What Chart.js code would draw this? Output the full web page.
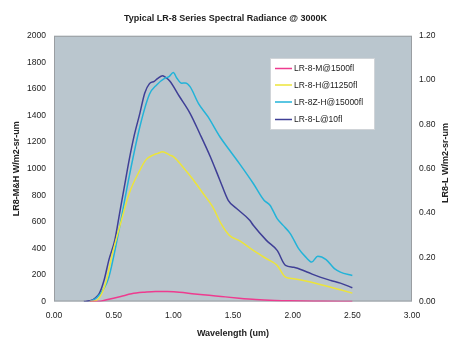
<!DOCTYPE html>
<html>
<head>
<meta charset="utf-8">
<script src="https://cdn.jsdelivr.net/npm/chart.js@4.4.1/dist/chart.umd.min.js"></script>
<style>
  html, body { margin: 0; padding: 0; background: #ffffff; }
  #wrap { width: 451px; height: 339px; }
</style>
</head>
<body>
<div id="wrap"><canvas id="c" width="451" height="339"></canvas></div>
<script>
// ---- Data ----
const chartTitle = "Typical LR-8 Series Spectral Radiance @ 3000K";
const xTitle = "Wavelength (um)";
const yLeftTitle = "LR8-M&H W/m2-sr-um";
const yRightTitle = "LR8-L W/m2-sr-um";

const seriesNames = ["LR-8-M@1500fl", "LR-8-H@11250fl", "LR-8Z-H@15000fl", "LR-8-L@10fl"];

// LR-8-M@1500fl (left axis)
const mWave = [0.30, 0.37, 0.45, 0.56, 0.65, 0.76, 0.85, 0.95, 1.05, 1.18, 1.30, 1.40, 1.55, 1.69, 1.85, 1.97, 2.25, 2.50];
const mVals = [0, 0, 15, 38, 58, 70, 76, 75, 70, 57, 47, 38, 25, 15, 8, 5, 2, 0];

// LR-8-H@11250fl (left axis)
const hWave = [0.30, 0.35, 0.40, 0.44, 0.49, 0.55, 0.63, 0.72, 0.77, 0.83, 0.87, 0.91, 0.97, 1.00, 1.08, 1.17, 1.25, 1.33, 1.40, 1.47, 1.56, 1.67, 1.78, 1.87, 1.94, 2.01, 2.12, 2.23, 2.32, 2.40, 2.50];
const hVals = [0, 5, 60, 162, 362, 562, 813, 989, 1066, 1102, 1115, 1127, 1102, 1090, 1013, 913, 813, 712, 586, 498, 455, 385, 322, 272, 183, 171, 153, 128, 108, 88, 63];

// LR-8Z-H@15000fl (left axis)
const zWave = [0.30, 0.36, 0.42, 0.46, 0.55, 0.63, 0.72, 0.80, 0.86, 0.93, 0.96, 1.00, 1.03, 1.07, 1.10, 1.14, 1.21, 1.29, 1.39, 1.47, 1.56, 1.67, 1.76, 1.81, 1.87, 1.92, 1.98, 2.05, 2.11, 2.16, 2.21, 2.28, 2.35, 2.40, 2.50];
const zVals = [0, 30, 100, 185, 562, 940, 1317, 1560, 1630, 1681, 1690, 1723, 1680, 1643, 1645, 1617, 1492, 1391, 1240, 1140, 1030, 888, 762, 725, 624, 573, 511, 398, 334, 297, 340, 315, 247, 221, 196];

// LR-8-L@10fl (right axis)
const lWave = [0.25, 0.30, 0.38, 0.42, 0.46, 0.51, 0.55, 0.59, 0.63, 0.67, 0.72, 0.76, 0.80, 0.84, 0.87, 0.91, 0.93, 0.97, 1.05, 1.14, 1.22, 1.31, 1.39, 1.46, 1.53, 1.64, 1.67, 1.78, 1.87, 1.94, 2.01, 2.12, 2.23, 2.32, 2.40, 2.50];
const lVals = [0, 0.003, 0.037, 0.097, 0.188, 0.278, 0.399, 0.520, 0.640, 0.745, 0.851, 0.941, 0.984, 0.994, 1.008, 1.020, 1.014, 0.996, 0.927, 0.850, 0.760, 0.654, 0.548, 0.457, 0.420, 0.367, 0.344, 0.276, 0.231, 0.163, 0.155, 0.133, 0.110, 0.095, 0.083, 0.062];

const xTicks = [0, 0.5, 1, 1.5, 2, 2.5, 3];
const yLeftTicks = [0, 200, 400, 600, 800, 1000, 1200, 1400, 1600, 1800, 2000];
const yRightTicks = [0, 0.2, 0.4, 0.6, 0.8, 1.0, 1.2];

const colors = ["#ee3b8f", "#ece43a", "#23b3d8", "#3f3f96"];

// ---- Build ----
function pts(xs, ys) { return xs.map((x, i) => ({ x: x, y: ys[i] })); }

const FONT = "'Liberation Sans', Arial, sans-serif";
const TEXT = "#222222";

const plotBg = {
  id: 'plotBg',
  beforeDatasetsDraw(chart) {
    const { ctx, chartArea: a } = chart;
    ctx.save();
    ctx.fillStyle = "#bac6ce";
    ctx.fillRect(a.left, a.top, a.right - a.left, a.bottom - a.top);
    ctx.strokeStyle = "#9a9ea2";
    ctx.lineWidth = 1;
    ctx.strokeRect(a.left + 0.5, a.top + 0.5, a.right - a.left - 1, a.bottom - a.top - 1);
    ctx.restore();
  }
};

const extras = {
  id: 'extras',
  afterDraw(chart) {
    const ctx = chart.ctx;
    ctx.save();
    // right axis title (reads bottom-to-top like the left one)
    ctx.translate(446, 163);
    ctx.rotate(-Math.PI / 2);
    ctx.font = "bold 9px " + FONT;
    ctx.fillStyle = TEXT;
    ctx.textAlign = "center";
    ctx.textBaseline = "middle";
    ctx.fillText(yRightTitle, 0, 0);
    ctx.restore();

    // legend box inside the plot
    ctx.save();
    const bx = 270, by = 58, bw = 105, bh = 72;
    ctx.fillStyle = "#ffffff";
    ctx.fillRect(bx, by, bw, bh);
    ctx.strokeStyle = "#d0d4d8";
    ctx.lineWidth = 1;
    ctx.strokeRect(bx + 0.5, by + 0.5, bw - 1, bh - 1);
    ctx.font = "8.5px " + FONT;
    ctx.textBaseline = "middle";
    ctx.textAlign = "left";
    const rows = [68.5, 85, 102, 119.5];
    seriesNames.forEach((n, i) => {
      ctx.strokeStyle = colors[i];
      ctx.lineWidth = 1.5;
      ctx.beginPath();
      ctx.moveTo(275, rows[i]);
      ctx.lineTo(292, rows[i]);
      ctx.stroke();
      ctx.fillStyle = TEXT;
      ctx.fillText(n, 294, rows[i] + 0.5);
    });
    ctx.restore();
  }
};

const datasets = [
  { label: seriesNames[0], data: pts(mWave, mVals), yAxisID: 'y', borderColor: colors[0] },
  { label: seriesNames[1], data: pts(hWave, hVals), yAxisID: 'y', borderColor: colors[1] },
  { label: seriesNames[2], data: pts(zWave, zVals), yAxisID: 'y', borderColor: colors[2] },
  { label: seriesNames[3], data: pts(lWave, lVals), yAxisID: 'y1', borderColor: colors[3] }
].map(d => Object.assign(d, { borderWidth: 1.5, pointRadius: 0, fill: false, cubicInterpolationMode: 'monotone' }));

new Chart(document.getElementById('c'), {
  type: 'line',
  data: { datasets: datasets },
  options: {
    responsive: false,
    animation: false,
    devicePixelRatio: 1,
    layout: { padding: 0 },
    plugins: {
      legend: { display: false },
      tooltip: { enabled: false },
      title: {
        display: true,
        text: chartTitle,
        color: TEXT,
        font: { family: FONT, size: 9, weight: 'bold' },
        padding: { top: 13, bottom: 12 }
      }
    },
    scales: {
      x: {
        type: 'linear',
        min: 0, max: 3,
        afterBuildTicks: s => { s.ticks = xTicks.map(v => ({ value: v })); },
        afterFit: s => { s.height = 37.5; },
        grid: { display: false, drawTicks: false },
        border: { display: false },
        ticks: { color: TEXT, font: { family: FONT, size: 8.5 }, padding: 9, maxRotation: 0,
                 callback: v => Number(v).toFixed(2) },
        title: { display: true, text: xTitle, color: TEXT, font: { family: FONT, size: 9, weight: 'bold' },
                 padding: { top: 0, bottom: 0 } }
      },
      y: {
        type: 'linear', position: 'left',
        min: 0, max: 2000,
        afterBuildTicks: s => { s.ticks = yLeftTicks.map(v => ({ value: v })); },
        afterFit: s => { s.width = 54; },
        grid: { display: false, drawTicks: false },
        border: { display: false },
        ticks: { color: TEXT, font: { family: FONT, size: 8.5 }, padding: 8,
                 callback: v => String(Math.round(v)) },
        title: { display: true, text: yLeftTitle, color: TEXT, font: { family: FONT, size: 9, weight: 'bold' },
                 padding: { top: 11, bottom: 0 } }
      },
      y1: {
        type: 'linear', position: 'right',
        min: 0, max: 1.2,
        afterBuildTicks: s => { s.ticks = yRightTicks.map(v => ({ value: v })); },
        afterFit: s => { s.width = 39; },
        grid: { display: false, drawTicks: false },
        border: { display: false },
        ticks: { color: TEXT, font: { family: FONT, size: 8.5 }, padding: 7,
                 callback: v => Number(v).toFixed(2) },
        title: { display: false }
      }
    }
  },
  plugins: [plotBg, extras]
});
</script>
</body>
</html>
